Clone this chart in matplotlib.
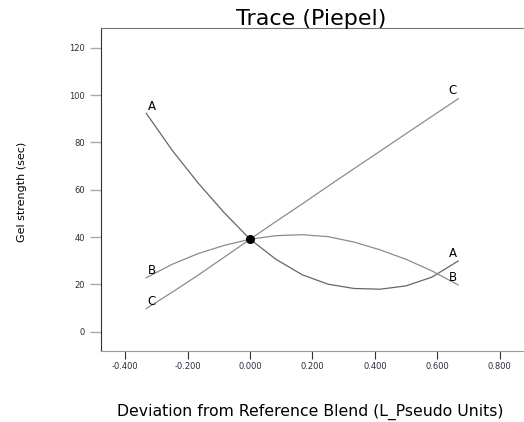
import matplotlib
matplotlib.use("Agg")
import matplotlib.pyplot as plt

# trace values
deviation = [-0.333, -0.250, -0.167, -0.083, 0.000, 0.083, 0.167,
             0.250, 0.333, 0.417, 0.500, 0.583, 0.667]
trace_a = [92.3, 76.7, 62.9, 50.3, 39.1, 30.6, 24.1,
           20.1, 18.3, 18.0, 19.4, 23.1, 29.9]
trace_b = [22.8, 28.5, 33.0, 36.5, 39.1, 40.6, 41.0,
           40.2, 37.9, 34.6, 30.6, 25.7, 19.8]
trace_c = [9.8, 16.7, 23.9, 31.5, 39.1, 46.6, 54.0,
           61.5, 68.9, 76.3, 83.7, 91.0, 98.4]
ref_point = (0.0, 39.1)

x_ticks = [-0.4, -0.2, 0.0, 0.2, 0.4, 0.6, 0.8]
x_ticklabels = ["-0.400", "-0.200", "0.000", "0.200", "0.400", "0.600", "0.800"]
y_ticks = [0, 20, 40, 60, 80, 100, 120]

fig = plt.figure(figsize=(5.24, 4.22), dpi=100)
ax = fig.add_axes([0.1927, 0.1694, 0.8073, 0.7631])

ax.plot(deviation, trace_a, color="#666666", lw=0.9)
ax.plot(deviation, trace_b, color="#8c8c8c", lw=0.9)
ax.plot(deviation, trace_c, color="#8c8c8c", lw=0.9)
ax.plot(*ref_point, "o", color="black", markersize=5.5, zorder=5)

# component letters at both ends of each trace
lab_kw = dict(fontsize=8.5, ha="center", va="center", color="black")
ax.text(-0.315, 95.3, "A", **lab_kw)
ax.text(-0.315, 25.8, "B", **lab_kw)
ax.text(-0.315, 12.7, "C", **lab_kw)
ax.text(0.650, 102.1, "C", **lab_kw)
ax.text(0.650, 33.1, "A", **lab_kw)
ax.text(0.650, 22.8, "B", **lab_kw)

ax.set_xlim(-0.478, 0.878)
ax.set_ylim(-7.9, 128.1)
ax.set_xticks(x_ticks)
ax.set_xticklabels(x_ticklabels)
ax.set_yticks(y_ticks)

ax.spines["right"].set_visible(False)
ax.spines["left"].set_color("#333333")
ax.spines["top"].set_color("#777777")
ax.spines["bottom"].set_color("#999999")
ax.tick_params(axis="y", length=8, width=1, color="#aaaaaa", pad=3.4,
               labelsize=6, labelcolor="#2a2a40")
ax.tick_params(axis="x", length=5.5, width=0.8, color="#333333", pad=2.9,
               labelsize=6, labelcolor="#2a2a40")

fig.text(311 / 524, 1 - 18.8 / 422, "Trace (Piepel)", fontsize=16,
         ha="center", va="center")
fig.text(310 / 524, 1 - 412 / 422,
         "Deviation from Reference Blend (L_Pseudo Units)",
         fontsize=11.3, ha="center", va="center")
fig.text(22 / 524, 1 - 191.7 / 422, "Gel strength (sec)", fontsize=8,
         rotation=90, ha="center", va="center")

fig.savefig("out.png", dpi=100)
